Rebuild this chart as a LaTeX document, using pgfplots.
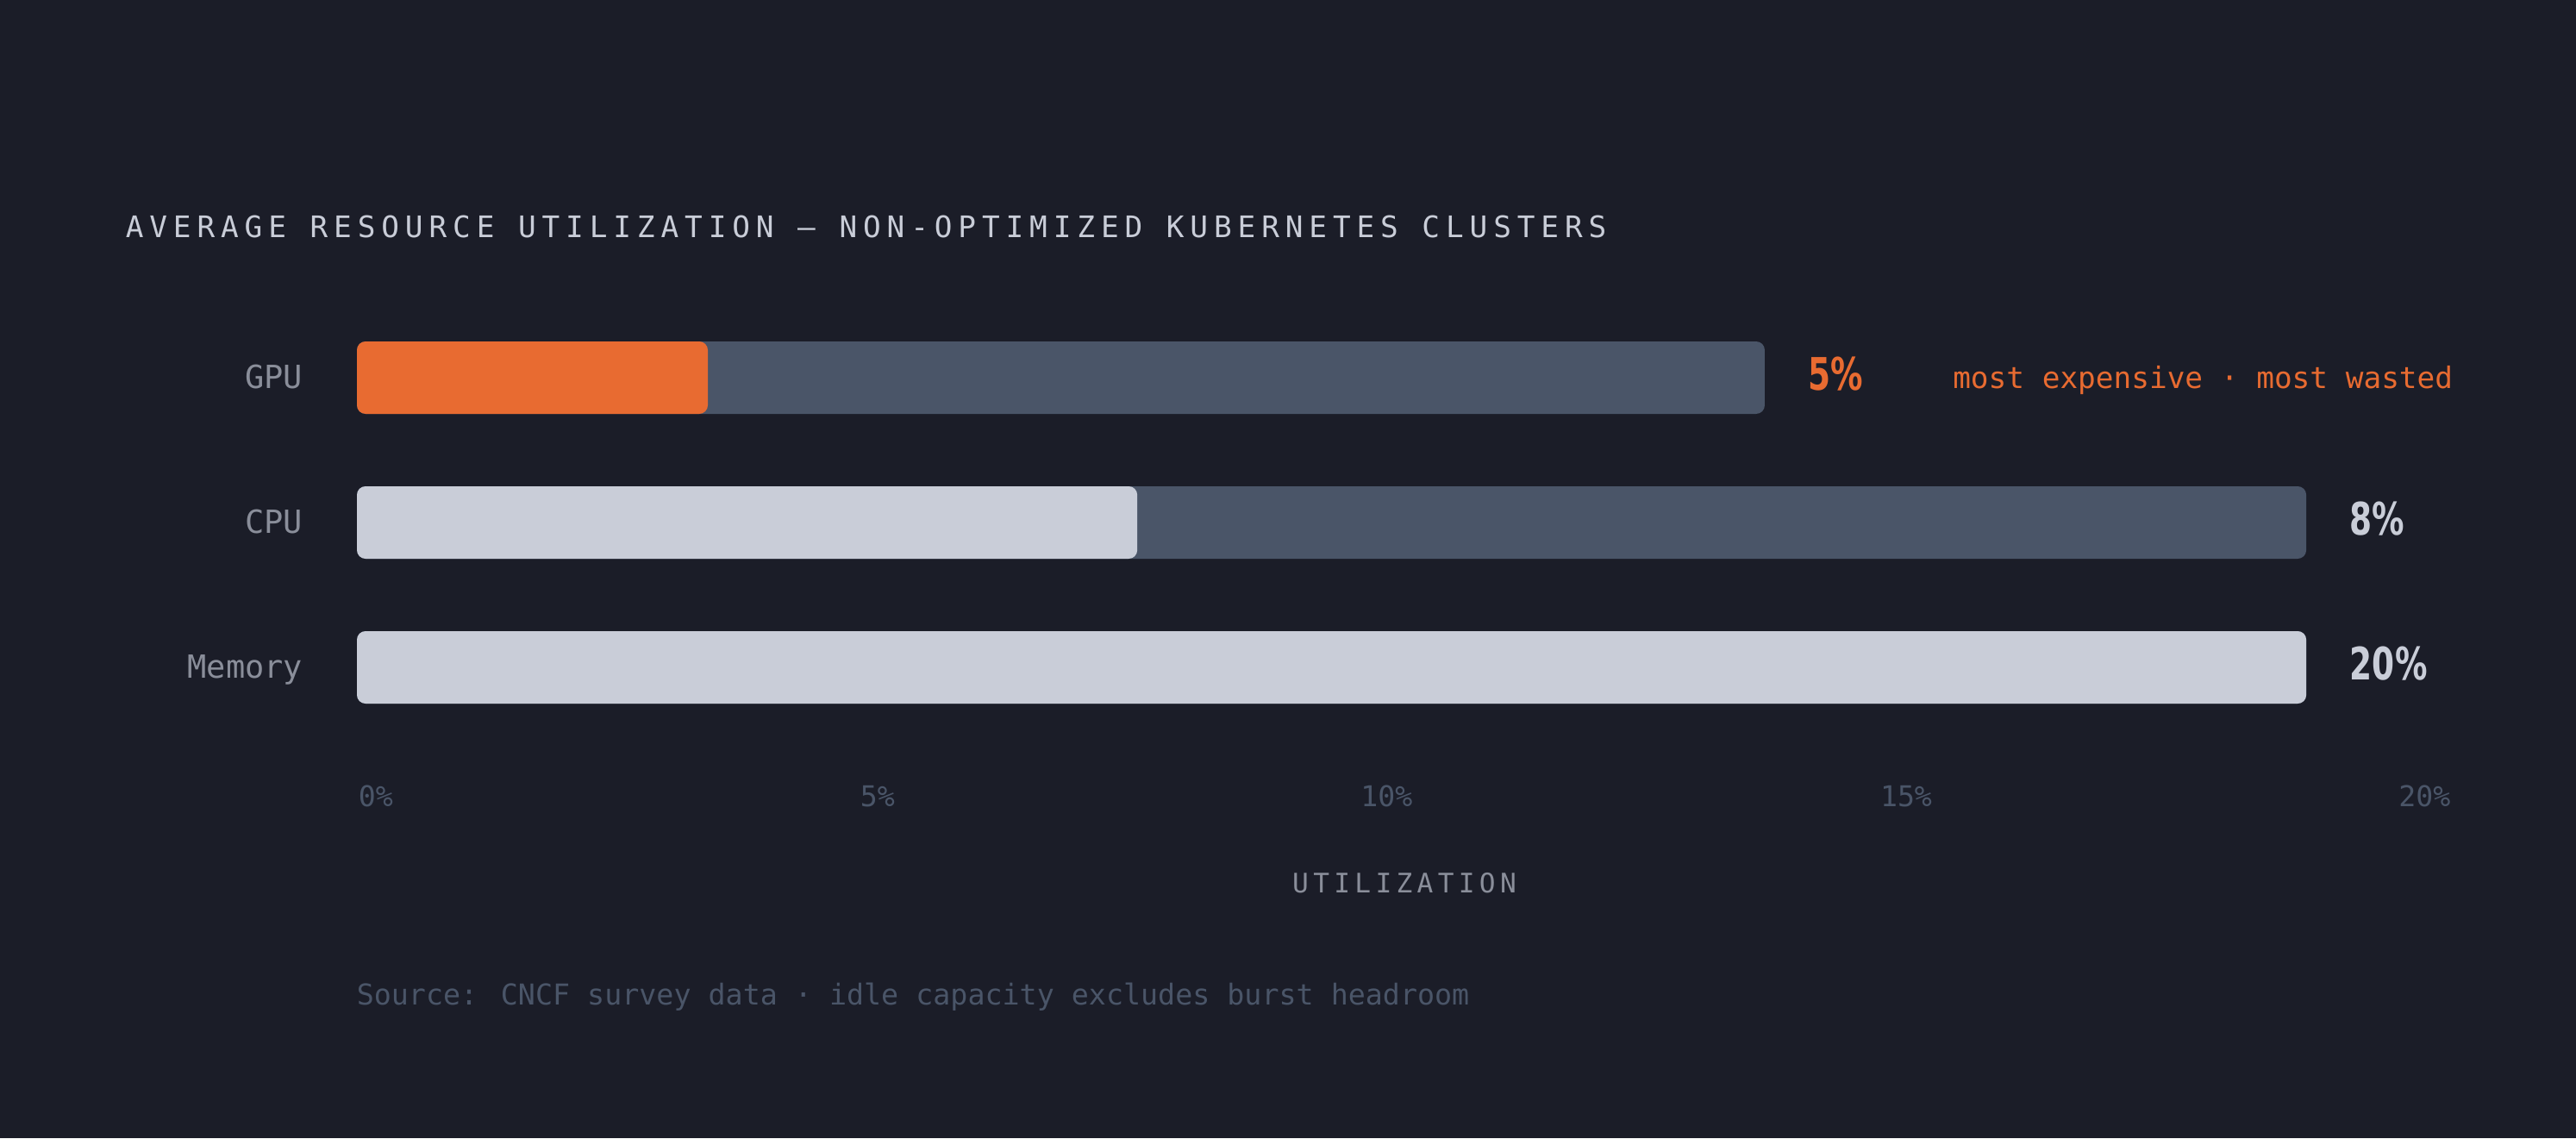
\documentclass[border=0pt]{standalone}
\usepackage{fontspec}
\usepackage{pgfplots}
\pgfplotsset{compat=1.18}
\setmainfont{DejaVu Sans Mono}
\newfontfamily\spaced{DejaVu Sans Mono}[LetterSpace=20]
\newfontfamily\axspaced{DejaVu Sans Mono}[LetterSpace=17]
\newfontfamily\valfont{DejaVu Sans}[FakeStretch=0.72]

\definecolor{bg}{HTML}{1B1D28}
\definecolor{accent}{HTML}{E86B31}
\definecolor{track}{HTML}{4A5568}
\definecolor{lite}{HTML}{C9CDD8}
\definecolor{muted}{HTML}{8A8E9A}
\definecolor{dim}{HTML}{4A5568}

\begin{document}
\begin{tikzpicture}[x=1pt,y=1pt]
\fill[bg] (0,0) rectangle (747,330);
\useasboundingbox (0,0) rectangle (747,330);
\begin{axis}[
  at={(103.5pt,115.5pt)}, anchor=south west,
  scale only axis, width=607.5pt, height=126pt,
  xmin=0, xmax=20, ymin=-0.5, ymax=2.5,
  clip=false,
  axis line style={draw=none},
  major tick length=0pt,
  xbar, bar shift=0pt, bar width=21pt,
  ytick={0,1,2}, yticklabels={Memory,CPU,GPU},
  yticklabel style={anchor=base east, inner sep=0pt, xshift=-15.5pt, yshift=-3pt,
    font=\fontsize{9.25}{11}\selectfont, text=muted},
  xtick={0.18,4.97,9.83,14.79,19.74},
  xticklabels={0\%,5\%,10\%,15\%,20\%},
  xticklabel style={anchor=base, inner sep=0pt, yshift=-19.25pt,
    font=\fontsize{8.3}{10}\selectfont, text=dim},
  xlabel={UTILIZATION},
  xlabel style={at={(axis description cs:0.5,0)}, anchor=base, inner sep=0pt,
    yshift=-44.25pt, font=\axspaced\fontsize{7.8}{9}\selectfont, text=muted},
]
% idle capacity (track) then utilised share
\addplot[fill=track, draw=none, rounded corners=2.5pt] coordinates {(13.44,2) (18.61,1) (18.61,0)};
\addplot[fill=lite, draw=none, rounded corners=2.5pt] coordinates {(7.45,1) (18.61,0)};
\addplot[fill=accent, draw=none, rounded corners=2.5pt] coordinates {(3.35,2)};

\node[anchor=base west, inner sep=0pt, xshift=12.5pt, yshift=-3.6pt, text=accent,
  font=\valfont\bfseries\fontsize{13}{15}\selectfont] at (axis cs:13.44,2) {5\%};
\node[anchor=base west, inner sep=0pt, xshift=12.5pt, yshift=-3.6pt, text=lite,
  font=\valfont\bfseries\fontsize{13}{15}\selectfont] at (axis cs:18.61,1) {8\%};
\node[anchor=base west, inner sep=0pt, xshift=12.5pt, yshift=-3.6pt, text=lite,
  font=\valfont\bfseries\fontsize{13}{15}\selectfont] at (axis cs:18.61,0) {20\%};
\node[anchor=base west, inner sep=0pt, yshift=-3pt, text=accent,
  font=\fontsize{8.6}{10}\selectfont] at (axis cs:15.23,2) {most expensive · most wasted};
\end{axis}
\node[anchor=base west, inner sep=0pt, text=lite, font=\spaced\fontsize{8.6}{10}\selectfont]
  at (36.25,261) {AVERAGE RESOURCE UTILIZATION — NON-OPTIMIZED KUBERNETES CLUSTERS};
\node[anchor=base west, inner sep=0pt, text=dim, font=\fontsize{8.33}{10}\selectfont]
  at (103.25,38.75) {Source: CNCF survey data · idle capacity excludes burst headroom};
\end{tikzpicture}
\end{document}
